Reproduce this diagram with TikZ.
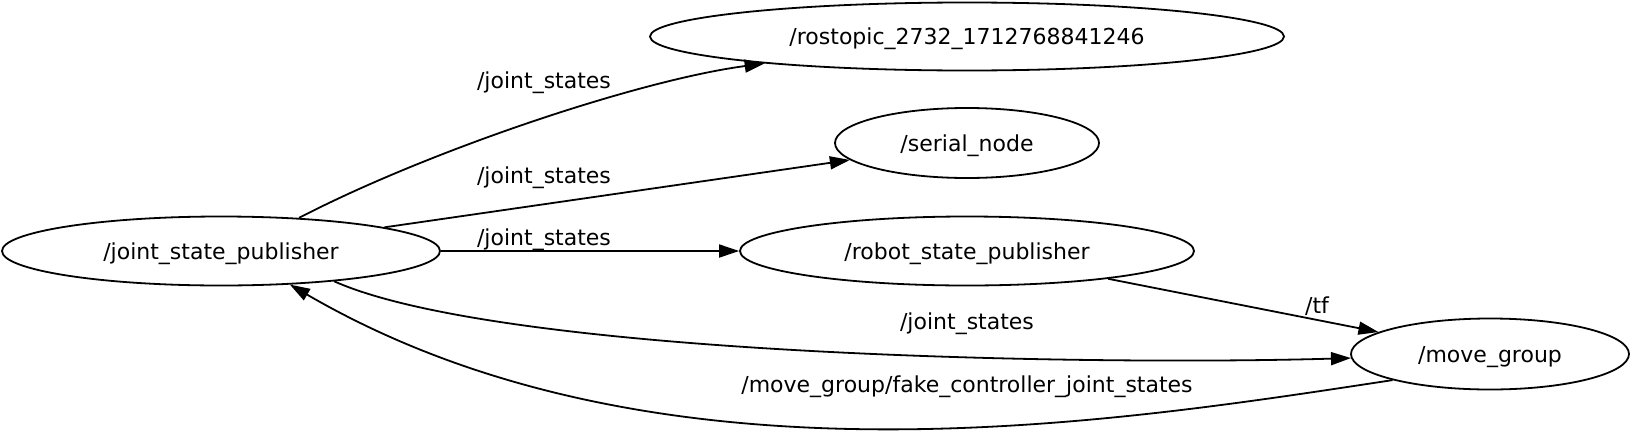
\documentclass[tikz,border=0pt]{standalone}
\usepackage{fontspec}
\setmainfont{DejaVu Sans}
\usetikzlibrary{shapes.geometric,arrows.meta}
\begin{document}
\begin{tikzpicture}[x=1pt,y=-1pt,
  every node/.style={font=\fontsize{22}{26}\selectfont,text depth=0pt},
  rosnode/.style={ellipse,draw,line width=1.8pt,inner sep=0pt},
  lbl/.style={inner sep=0pt},
  edge/.style={line width=1.8pt,-{Triangle[length=20pt,width=13pt]}}]
\useasboundingbox (0,0) rectangle (1632,442);
\node[rosnode,minimum width=438,minimum height=69] (jsp) at (221,251) {/joint\_state\_publisher};
\node[rosnode,minimum width=634,minimum height=68] (rostopic) at (967,36.5) {/rostopic\_2732\_1712768841246};
\node[rosnode,minimum width=264,minimum height=70] (serial) at (967,143) {/serial\_node};
\node[rosnode,minimum width=454,minimum height=69] (robot) at (967,251) {/robot\_state\_publisher};
\node[rosnode,minimum width=278,minimum height=71] (move) at (1490,354) {/move\_group};
\draw[edge] (jsp.23) .. controls (430,150) and (640,80) .. (rostopic);
\draw[edge] (jsp) -- (serial);
\draw[edge] (jsp) -- (robot);
\draw[edge] (robot) -- (move);
\draw[edge] (jsp.-15) .. controls (500,355) and (1079,366) .. (move);
\draw[edge] (move.195) .. controls (1110,423) and (655,497) .. (jsp.-26);
\node[lbl] (l1) at (544,80) {/joint\_states};
\node[lbl] (l2) at (544,175) {/joint\_states};
\node[lbl] (l3) at (544,237) {/joint\_states};
\node[lbl] (l4) at (967,321) {/joint\_states};
\node[lbl] (l5) at (1317,305) {/tf};
\node[lbl] (l6) at (967,384) {/move\_group/fake\_controller\_joint\_states};
\end{tikzpicture}
\end{document}
